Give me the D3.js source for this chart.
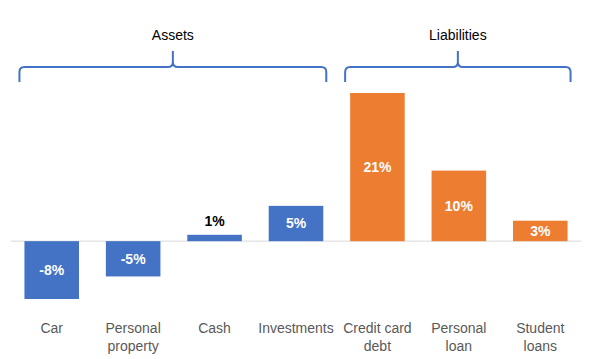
<!DOCTYPE html>
<html>
<head>
<meta charset="utf-8">
<script src="https://cdn.jsdelivr.net/npm/d3@7"></script>
<style>
  body { margin: 0; background: #fff; }
  svg { display: block; font-family: "Liberation Sans", Arial, sans-serif; }
</style>
</head>
<body>
<div id="chart"></div>
<script>
// data
const categories = ["Car", "Personal property", "Cash", "Investments", "Credit card debt", "Personal loan", "Student loans"];
const labelLines = [["Car"], ["Personal", "property"], ["Cash"], ["Investments"], ["Credit card", "debt"], ["Personal", "loan"], ["Student", "loans"]];
const values = [-8.2, -5.0, 0.9, 5.0, 21.0, 10.0, 2.9];
const valueLabels = ["-8%", "-5%", "1%", "5%", "21%", "10%", "3%"];
const groups = [
  {name: "Assets", members: ["Car", "Personal property", "Cash", "Investments"], color: "#4472C4"},
  {name: "Liabilities", members: ["Credit card debt", "Personal loan", "Student loans"], color: "#ED7D31"}
];

const width = 592;
const height = 359;

const svg = d3.select("#chart").append("svg")
    .attr("width", width)
    .attr("height", height);

const x = d3.scaleBand()
    .domain(categories)
    .range([11, 581])
    .paddingInner(0.33)
    .paddingOuter(0.165);

const y = d3.scaleLinear()
    .domain([-8.2, 21])
    .range([299, 93]);

const groupOf = c => groups.find(g => g.members.includes(c));

// zero line
svg.append("line")
    .attr("x1", 11).attr("x2", 581)
    .attr("y1", y(0)).attr("y2", y(0))
    .attr("stroke", "#d9d9d9")
    .attr("stroke-width", 1);

// bars
svg.append("g")
    .selectAll("rect")
    .data(categories)
    .enter()
    .append("rect")
    .attr("x", d => x(d))
    .attr("width", x.bandwidth())
    .attr("y", (d, i) => y(Math.max(0, values[i])))
    .attr("height", (d, i) => Math.abs(y(values[i]) - y(0)))
    .attr("fill", d => groupOf(d).color);

// value labels
svg.append("g")
    .selectAll("text")
    .data(categories)
    .enter()
    .append("text")
    .attr("x", d => x(d) + x.bandwidth() / 2)
    .attr("y", (d, i) => {
        const h = Math.abs(y(values[i]) - y(0));
        if (h < 16) return y(values[i]) - 14;
        return (y(values[i]) + y(0)) / 2;
    })
    .attr("dy", "0.35em")
    .attr("text-anchor", "middle")
    .attr("font-size", 14)
    .attr("font-weight", "bold")
    .attr("fill", (d, i) => Math.abs(y(values[i]) - y(0)) < 16 ? "#000" : "#fff")
    .text((d, i) => valueLabels[i]);

// category labels
const cat = svg.append("g")
    .selectAll("text")
    .data(categories)
    .enter()
    .append("text")
    .attr("text-anchor", "middle")
    .attr("font-size", 14)
    .attr("fill", "#595959");
cat.each(function(d, i) {
    d3.select(this).selectAll("tspan")
        .data(labelLines[i])
        .enter()
        .append("tspan")
        .attr("x", x(d) + x.bandwidth() / 2)
        .attr("y", (l, j) => 333 + j * 18)
        .text(l => l);
});

// braces
function bracePath(x0, x1, yTop, yBot, yTip) {
    const cx = (x0 + x1) / 2;
    const r = 5;
    return `M${x0},${yBot} L${x0},${yTop + r} Q${x0},${yTop} ${x0 + r},${yTop}` +
        ` L${cx - r},${yTop} Q${cx},${yTop} ${cx},${yTop - r} L${cx},${yTip}` +
        ` M${cx},${yTop - r} Q${cx},${yTop} ${cx + r},${yTop}` +
        ` L${x1 - r},${yTop} Q${x1},${yTop} ${x1},${yTop + r} L${x1},${yBot}`;
}

groups.forEach(g => {
    const first = g.members[0];
    const last = g.members[g.members.length - 1];
    const x0 = x(first) - 5;
    const x1 = x(last) + x.bandwidth() + 3;
    svg.append("path")
        .attr("d", bracePath(x0, x1, 67, 82, 51))
        .attr("fill", "none")
        .attr("stroke", "#4472C4")
        .attr("stroke-width", 2);
    svg.append("text")
        .attr("x", (x0 + x1) / 2)
        .attr("y", 35)
        .attr("dy", "0.35em")
        .attr("text-anchor", "middle")
        .attr("font-size", 14)
        .attr("fill", "#000")
        .text(g.name);
});
</script>
</body>
</html>
